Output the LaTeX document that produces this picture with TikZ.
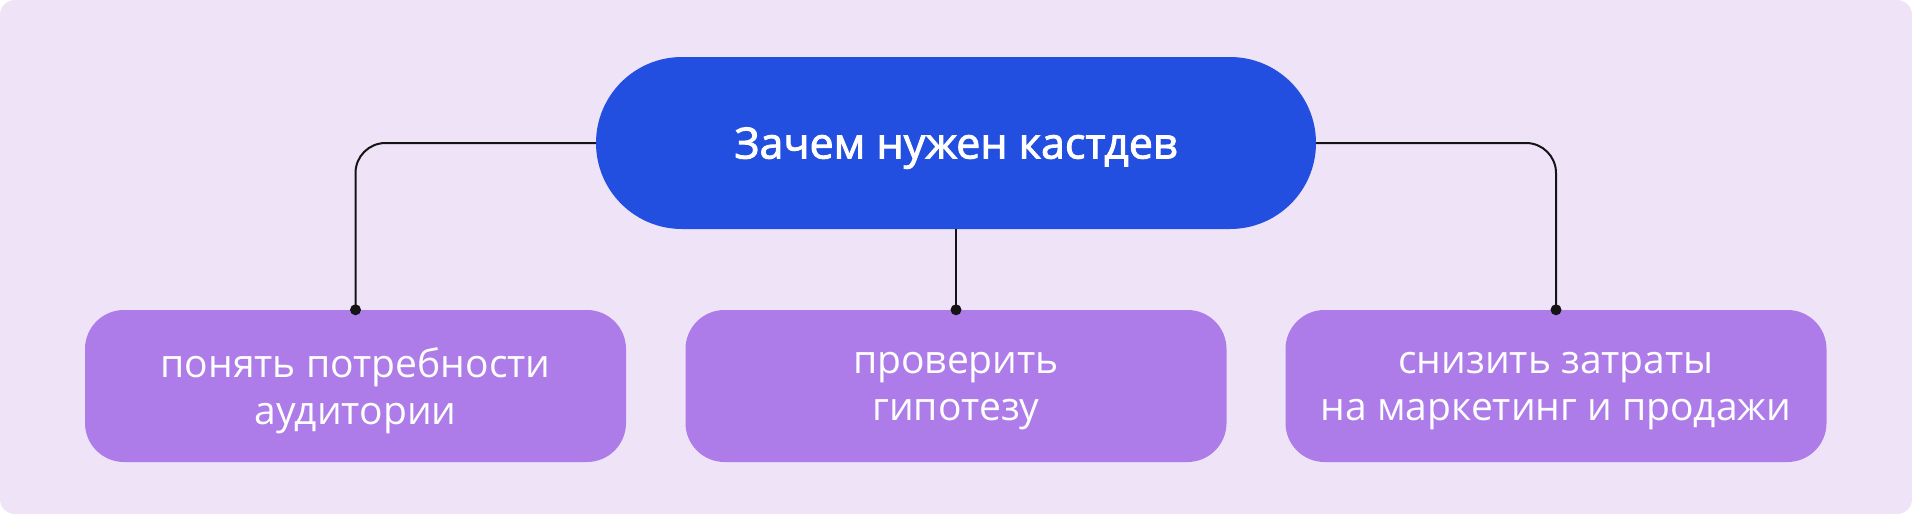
\documentclass[tikz,border=0pt]{standalone}
\usepackage{fontspec}
\setmainfont{Open Sans}
\newfontfamily\titlefont{Open Sans}[FakeBold=2.2]
\definecolor{bgc}{HTML}{EFE3F8}
\definecolor{pillc}{HTML}{234FE0}
\definecolor{boxc}{HTML}{AD7CE8}
\definecolor{linec}{HTML}{141414}
\tikzset{
  pill/.style={fill=pillc, rounded corners=86pt, minimum width=720pt, minimum height=172pt, text=white, font=\fontsize{43}{50}\titlefont, inner sep=0pt, text height=31pt, text depth=0pt},
  goalbox/.style={fill=boxc, rounded corners=39pt, minimum width=541pt, minimum height=152pt, text=white, align=center, font=\fontsize{39}{47}\selectfont, inner sep=0pt, text depth=0pt},
  conn/.style={draw=linec, line width=2pt, rounded corners=30pt},
  dotc/.style={fill=linec}
}
\begin{document}
\begin{tikzpicture}[x=1pt,y=-1pt]
\useasboundingbox (0,0) rectangle (1912,514);
\fill[white] (0,0) rectangle (1912,514);
\fill[bgc, rounded corners=15pt] (0,0) rectangle (1912,514);
\node[pill] (top) at (956,143) {Зачем нужен кастдев};
\node[goalbox] (l) at (355.5,386) {понять потребности\\аудитории};
\node[goalbox] (m) at (956,386) {проверить\\гипотезу};
\node[goalbox] (r) at (1556,386) {снизить затраты\\на маркетинг и продажи};
\draw[conn] (top.west) -| (l.north);
\draw[conn] (top.east) -| (r.north);
\draw[conn] (top.south) -- (m.north);
\fill[dotc] (l.north) circle (5.5);
\fill[dotc] (m.north) circle (5.5);
\fill[dotc] (r.north) circle (5.5);
\end{tikzpicture}
\end{document}
